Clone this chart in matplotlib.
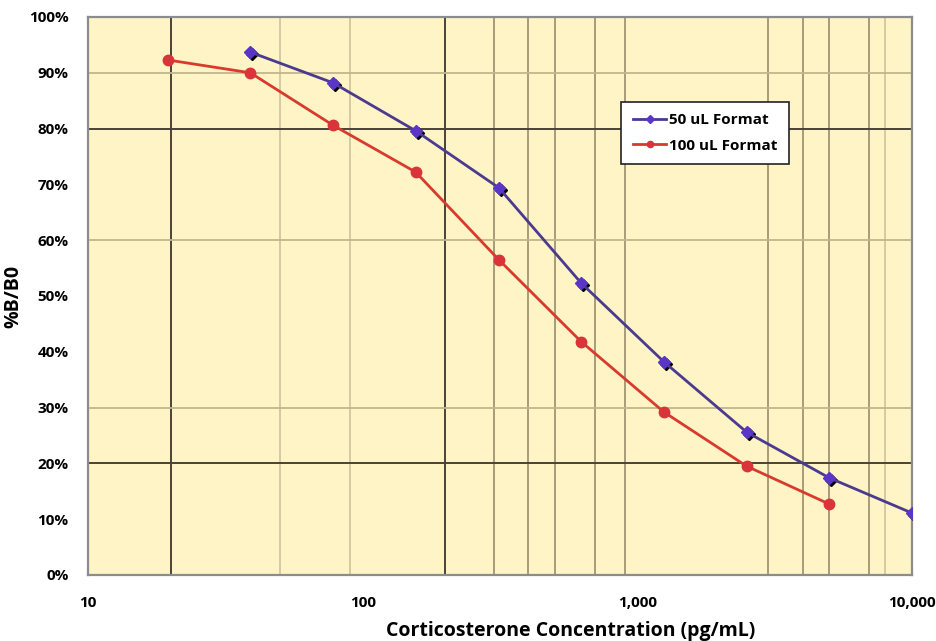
import matplotlib
matplotlib.use("Agg")
import matplotlib.pyplot as plt
import matplotlib.transforms as mtransforms
from matplotlib.ticker import FixedLocator, FuncFormatter, NullLocator

plt.rcParams['font.family'] = ['Open Sans', 'DejaVu Sans']
plt.rcParams['font.weight'] = 'bold'

# --- data
conc_50 = [39, 78, 156, 313, 625, 1250, 2500, 5000, 10000]
pct_50 = [93.7, 88.2, 79.6, 69.4, 52.3, 38.2, 25.6, 17.4, 11.1]
conc_100 = [19.5, 39, 78, 156, 313, 625, 1250, 2500, 5000]
pct_100 = [92.3, 90.0, 80.6, 72.2, 56.5, 41.8, 29.2, 19.5, 12.7]
labels = ["50 uL Format", "100 uL Format"]

x_ticks = [10, 100, 1000, 10000]
x_ticklabels = ["10", "100", "1,000", "10,000"]
y_ticks = [0, 10, 20, 30, 40, 50, 60, 70, 80, 90, 100]

# grid lines as they appear in the original picture
vgrid_dark = [20, 200]
vgrid_light = [50, 90, 8000]
vgrid_mid = [300, 400, 500, 700, 900, 3000, 4000, 5000, 7000]
hgrid_dark = [20, 80]
hgrid_light = [30, 60, 90]

fig = plt.figure(figsize=(9.37, 6.41), dpi=100)
ax = fig.add_axes([0.0939, 0.103, 0.8794, 0.8705])
ax.set_facecolor('#fef4c6')

ax.set_xscale('log')
ax.set_xlim(10, 10000)
ax.set_ylim(0, 100)

for v in vgrid_light:
    ax.axvline(v, color='#c9be96', lw=1.1, zorder=1)
for v in vgrid_mid:
    ax.axvline(v, color='#8f8466', lw=1.1, zorder=1)
for v in vgrid_dark:
    ax.axvline(v, color='#4a4236', lw=1.4, zorder=1)
for v in hgrid_light:
    ax.axhline(v, color='#c2b68c', lw=1.3, zorder=1)
for v in hgrid_dark:
    ax.axhline(v, color='#4a4236', lw=1.4, zorder=1)

# black "shadow" under markers
shadow = mtransforms.offset_copy(ax.transData, fig=fig, x=1.5, y=-1.5, units='points')
ax.plot(conc_50, pct_50, linestyle='none', marker='D', ms=6.5, color='black',
        transform=shadow, zorder=3)

ax.plot(conc_50, pct_50, color='#4b3a8f', lw=2, marker='D', ms=6.5,
        mfc='#5a35c8', mec='#5a35c8', label=labels[0], zorder=4)
ax.plot(conc_100, pct_100, color='#d83a2e', lw=2, marker='o', ms=7.5,
        mfc='#d9343a', mec='#d9343a', label=labels[1], zorder=4)

ax.xaxis.set_major_locator(FixedLocator(x_ticks))
ax.xaxis.set_minor_locator(NullLocator())
ax.set_xticklabels(x_ticklabels)
ax.yaxis.set_major_locator(FixedLocator(y_ticks))
ax.yaxis.set_major_formatter(FuncFormatter(lambda v, p: f"{int(v)}%"))
ax.yaxis.set_minor_locator(FixedLocator(hgrid_dark + hgrid_light))

ax.tick_params(axis='x', length=0, pad=15, labelsize=11)
ax.tick_params(axis='y', which='major', length=0, pad=14, labelsize=11)
ax.tick_params(axis='y', which='minor', length=4, width=1, color='#8a8a8a')

for s in ax.spines.values():
    s.set_color('#8c8c8c')
    s.set_linewidth(1.6)

ax.set_xlabel("Corticosterone Concentration (pg/mL)", fontsize=14,
              fontweight='bold')
ax.xaxis.set_label_coords(0.586, -0.083)
ax.set_ylabel("%B/B0", fontsize=14, fontweight='bold')
ax.yaxis.set_label_coords(-0.078, 0.5)

leg = ax.legend(loc='upper left', bbox_to_anchor=(0.638, 0.862), fontsize=11,
                frameon=True, fancybox=False, handlelength=2.2, handletextpad=0.2,
                borderpad=0.75, labelspacing=0.75, markerscale=0.6)
leg.get_frame().set_edgecolor('#222222')
leg.get_frame().set_linewidth(1.2)
leg.get_frame().set_facecolor('white')
leg.get_frame().set_alpha(1)

fig.savefig("out.png", dpi=100)
